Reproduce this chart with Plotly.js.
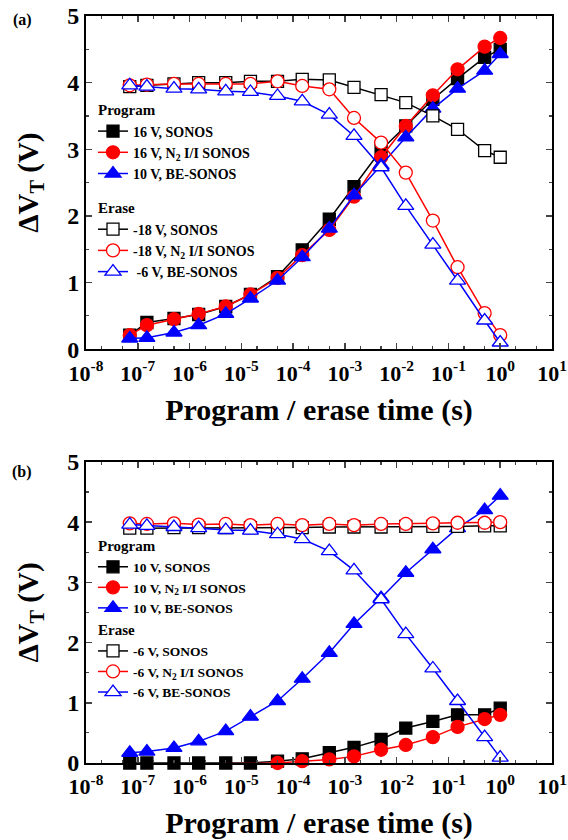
<!DOCTYPE html>
<html><head><meta charset="utf-8">
<script src="https://cdn.plot.ly/plotly-3.0.1.min.js"></script>
<style>body{margin:0;background:#fff}#chart{width:568px;height:840px}</style>
</head><body><div id="chart"></div>
<script>
// Program / erase times (s)
const times = [7e-8, 1.5e-7, 5e-7, 1.5e-6, 5e-6, 1.5e-5, 5e-5, 1.5e-4, 5e-4, 1.5e-3, 5e-3, 1.5e-2, 5e-2, 1.5e-1, 5e-1, 1];

// Panel (a)
const aProgSonos = [0.21, 0.40, 0.46, 0.52, 0.64, 0.82, 1.09, 1.49, 1.95, 2.44, 2.99, 3.35, 3.75, 4.06, 4.38, 4.50];
const aProgN2    = [0.21, 0.36, 0.45, 0.53, 0.64, 0.82, 1.07, 1.41, 1.79, 2.29, 2.88, 3.35, 3.81, 4.20, 4.54, 4.67];
const aProgBE    = [0.16, 0.17, 0.25, 0.36, 0.53, 0.76, 1.03, 1.38, 1.81, 2.31, 2.76, 3.18, 3.61, 3.91, 4.18, 4.43];
const aEraSonos  = [3.94, 3.96, 3.98, 4.00, 4.00, 4.02, 4.02, 4.05, 4.04, 3.93, 3.82, 3.70, 3.50, 3.30, 2.98, 2.88];
const aEraN2     = [3.96, 3.97, 3.98, 3.98, 3.98, 3.98, 4.02, 3.95, 3.90, 3.47, 3.10, 2.65, 1.93, 1.23, 0.54, 0.21];
const aEraBE     = [3.96, 3.94, 3.91, 3.90, 3.87, 3.86, 3.80, 3.72, 3.52, 3.20, 2.73, 2.15, 1.57, 1.03, 0.43, 0.10];

// Panel (b)
const bProgSonos = [0.0, 0.0, 0.0, 0.0, 0.0, 0.0, 0.03, 0.07, 0.17, 0.26, 0.39, 0.58, 0.69, 0.80, 0.80, 0.91];
const bProgN2    = [-0.02, -0.02, -0.02, -0.02, -0.02, -0.01, 0.0, 0.03, 0.06, 0.11, 0.22, 0.30, 0.43, 0.60, 0.73, 0.80];
const bProgBE    = [0.17, 0.19, 0.25, 0.36, 0.53, 0.77, 1.03, 1.40, 1.83, 2.31, 2.74, 3.16, 3.55, 3.90, 4.20, 4.44];
const bEraSonos  = [3.90, 3.90, 3.91, 3.91, 3.91, 3.91, 3.91, 3.91, 3.92, 3.92, 3.92, 3.93, 3.93, 3.93, 3.94, 3.94];
const bEraN2     = [3.98, 3.97, 3.98, 3.96, 3.97, 3.95, 3.97, 3.95, 3.97, 3.95, 3.97, 3.97, 3.98, 3.99, 3.99, 4.00];
const bEraBE     = [3.96, 3.94, 3.92, 3.90, 3.87, 3.86, 3.80, 3.72, 3.52, 3.20, 2.72, 2.14, 1.57, 1.03, 0.43, 0.09];

// Names
const aNames = ["16 V, SONOS", "16 V, N<sub>2</sub> I/I SONOS", "10 V, BE-SONOS",
                "-18 V, SONOS", "-18 V, N<sub>2</sub> I/I SONOS", " -6 V, BE-SONOS"];
const bNames = ["10 V, SONOS", "10 V, N<sub>2</sub> I/I SONOS", "10 V, BE-SONOS",
                "-6 V, SONOS", "-6 V, N<sub>2</sub> I/I SONOS", "-6 V, BE-SONOS"];
const tickVals = [1e-8, 1e-7, 1e-6, 1e-5, 1e-4, 1e-3, 1e-2, 1e-1, 1e0, 1e1];
const tickText = ["10<sup>-8</sup>", "10<sup>-7</sup>", "10<sup>-6</sup>", "10<sup>-5</sup>", "10<sup>-4</sup>",
                  "10<sup>-3</sup>", "10<sup>-2</sup>", "10<sup>-1</sup>", "10<sup>0</sup>", "10<sup>1</sup>"];

const colors = ["#000000", "#ff0000", "#0000ff"];
const symbols = ["square", "circle", "triangle-up"];
const sizes = [12, 13, 14];
const F = "Times New Roman, Liberation Serif, Times, serif";

function mk(y, i, filled, name, xa, ya, leg, group) {
  return {
    x: times, y: y, type: "scatter", mode: "lines+markers", name: name,
    xaxis: xa, yaxis: ya, legend: leg, legendgroup: group,
    legendgrouptitle: {text: group, font: {family: F, size: 15, color: "#000", weight: "bold"}},
    line: {color: colors[i], width: 1.5},
    marker: {symbol: symbols[i], size: sizes[i], color: filled ? colors[i] : "#ffffff",
             line: {color: colors[i], width: 1.3}},
    cliponaxis: false
  };
}

const data = [];
[aProgSonos, aProgN2, aProgBE].forEach((y, i) => data.push(mk(y, i, true, aNames[i], "x", "y", "legend", "Program")));
[aEraSonos, aEraN2, aEraBE].forEach((y, i) => data.push(mk(y, i, false, aNames[i + 3], "x", "y", "legend", "Erase")));
[bProgSonos, bProgN2, bProgBE].forEach((y, i) => data.push(mk(y, i, true, bNames[i], "x2", "y2", "legend2", "Program")));
[bEraSonos, bEraN2, bEraBE].forEach((y, i) => data.push(mk(y, i, false, bNames[i + 3], "x2", "y2", "legend2", "Erase")));

function xax(anchor) {
  return {
    type: "log", range: [-8, 1], anchor: anchor, domain: [0, 1],
    tickvals: tickVals, ticktext: tickText, ticks: "inside", ticklen: 6, tickwidth: 1.5,
    minor: {ticks: "inside", ticklen: 3, tickwidth: 1.2, showgrid: false},
    showline: true, linewidth: 2, linecolor: "#000", mirror: "allticks", showgrid: false, zeroline: false,
    tickfont: {family: F, size: 22, color: "#000", weight: "bold"}, ticklabelstandoff: 3,
    title: {text: "Program / erase time (s)", font: {family: F, size: 30, color: "#000", weight: "bold"}, standoff: 14}
  };
}
function yax(anchor, domain) {
  return {
    range: [0, 5], anchor: anchor, domain: domain, dtick: 1, ticks: "inside", ticklen: 6, tickwidth: 1.5,
    minor: {dtick: 0.5, ticks: "inside", ticklen: 3, tickwidth: 1.2, showgrid: false},
    showline: true, linewidth: 2, linecolor: "#000", mirror: "allticks", showgrid: false, zeroline: false,
    tickfont: {family: F, size: 24, color: "#000", weight: "bold"},
    title: {text: "ΔV<sub>T</sub> (V)", font: {family: F, size: 29, color: "#000", weight: "bold"}, standoff: 20}
  };
}

const plotW = 568 - 86 - 16, plotH = 840 - 16 - 77;
function px2paper(px, py) { return {x: (px - 86) / plotW, y: (840 - 77 - py) / plotH}; }
const pa = px2paper(22, 20), pb = px2paper(22, 472);
const la = px2paper(93, 93), lb = px2paper(93, 529);

const layout = {
  width: 568, height: 840,
  margin: {l: 86, r: 16, t: 16, b: 77},
  paper_bgcolor: "#fff", plot_bgcolor: "#fff",
  showlegend: true,
  xaxis: xax("y"), yaxis: yax("x", [0.554, 1]),
  xaxis2: xax("y2"), yaxis2: yax("x2", [0, 0.403]),
  legend: {x: la.x, y: la.y, xanchor: "left", yanchor: "top", bgcolor: "rgba(0,0,0,0)",
           font: {family: F, size: 14, color: "#000", weight: "bold"}, tracegroupgap: 12, itemwidth: 30},
  legend2: {x: lb.x, y: lb.y, xanchor: "left", yanchor: "top", bgcolor: "rgba(0,0,0,0)",
            font: {family: F, size: 13.5, color: "#000", weight: "bold"}, tracegroupgap: 0, itemwidth: 30},
  annotations: [
    {text: "(a)", x: pa.x, y: pa.y, xref: "paper", yref: "paper", showarrow: false, xanchor: "center", yanchor: "middle",
     font: {family: F, size: 16, color: "#000", weight: "bold"}},
    {text: "(b)", x: pb.x, y: pb.y, xref: "paper", yref: "paper", showarrow: false, xanchor: "center", yanchor: "middle",
     font: {family: F, size: 16, color: "#000", weight: "bold"}}
  ]
};

Plotly.newPlot("chart", data, layout, {displayModeBar: false, staticPlot: true});
</script>
</body></html>
